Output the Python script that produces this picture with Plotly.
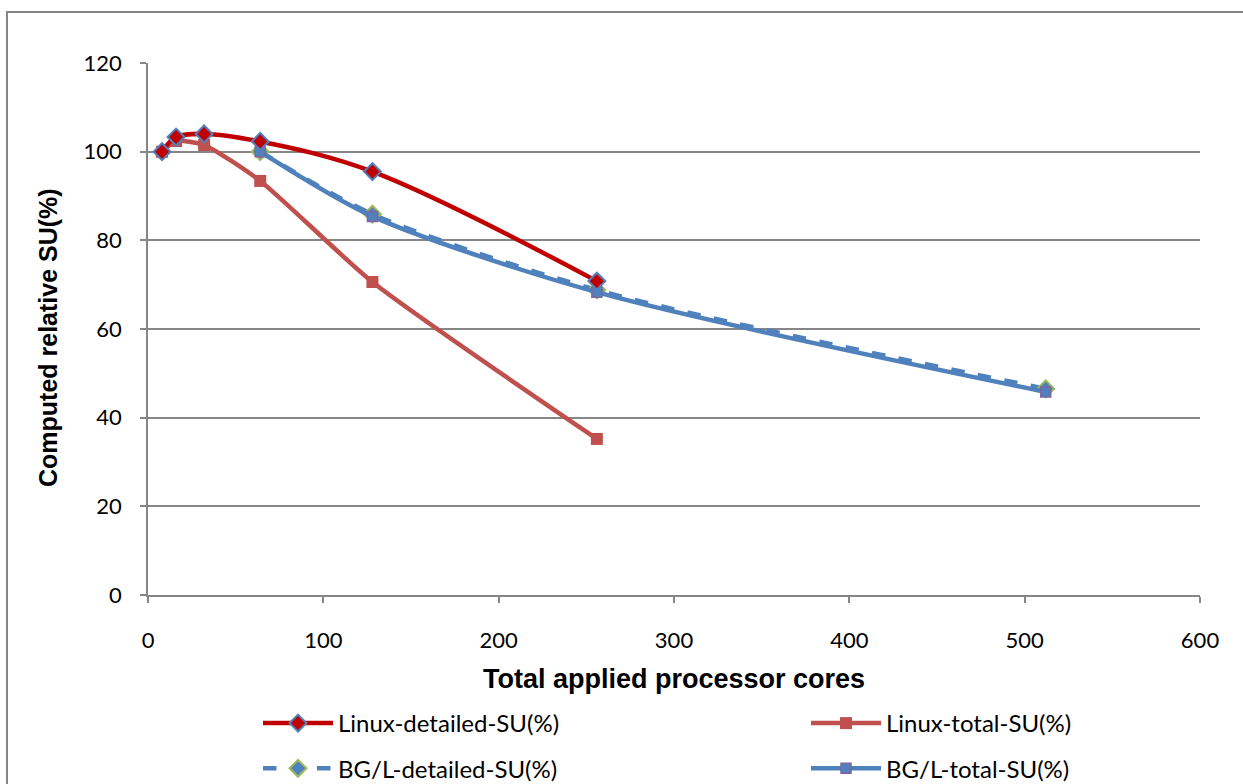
import plotly.graph_objects as go

# Speed-up measurements (relative SU in %) against total processor cores
linux_cores = [8, 16, 32, 64, 128, 256]
linux_detailed_su = [100, 103.3, 104.0, 102.3, 95.5, 70.8]
linux_total_su = [100, 102.4, 101.5, 93.4, 70.6, 35.2]

bgl_cores = [64, 128, 256, 512]
bgl_detailed_su = [100, 85.9, 68.8, 46.5]
bgl_total_su = [100, 85.4, 68.3, 45.8]

x_ticks = [0, 100, 200, 300, 400, 500, 600]
y_ticks = [0, 20, 40, 60, 80, 100, 120]

x_title = "Total applied processor cores"
y_title = "Computed relative SU(%)"

BLUE = "#4F81BD"
DARK_RED = "#C00000"
RED = "#C0504D"
GREEN = "#9BBB59"
PURPLE = "#8064A2"
GRID = "#868686"
TEXT_FONT = "Lato, 'Open Sans', sans-serif"
TITLE_FONT = "'Liberation Sans', Arial, sans-serif"

W, H = 1243, 784
L, R, T, B = 148, 43, 63, 189

fig = go.Figure()

fig.add_trace(go.Scatter(
    x=bgl_cores, y=bgl_detailed_su, name="BG/L-detailed-SU(%)",
    mode="lines+markers", line=dict(color=BLUE, width=4.5, dash="dash", shape="spline", smoothing=0.8),
    marker=dict(symbol="diamond", size=13, color=BLUE, line=dict(color=GREEN, width=2)),
    legend="legend", legendgroup="a2", legendrank=2,
))
fig.add_trace(go.Scatter(
    x=bgl_cores, y=bgl_total_su, name="BG/L-total-SU(%)",
    mode="lines+markers", line=dict(color=BLUE, width=4.5, shape="spline", smoothing=0.8),
    marker=dict(symbol="square", size=10, color=BLUE, line=dict(color=PURPLE, width=1.5)),
    legend="legend2", legendgroup="b2", legendrank=2,
))
fig.add_trace(go.Scatter(
    x=linux_cores, y=linux_total_su, name="Linux-total-SU(%)",
    mode="lines+markers", line=dict(color=RED, width=4.5, shape="spline", smoothing=0.6),
    marker=dict(symbol="square", size=12, color=RED),
    legend="legend2", legendgroup="b1", legendrank=1,
))
fig.add_trace(go.Scatter(
    x=linux_cores, y=linux_detailed_su, name="Linux-detailed-SU(%)",
    mode="lines+markers", line=dict(color=DARK_RED, width=4.5, shape="spline", smoothing=1.0),
    marker=dict(symbol="diamond", size=13, color=DARK_RED, line=dict(color=BLUE, width=2)),
    legend="legend", legendgroup="a1", legendrank=1,
))

legend_common = dict(
    orientation="v", yanchor="top", xanchor="left",
    xref="container", yref="container",
    font=dict(family=TEXT_FONT, size=24, color="#000000"),
    bgcolor="rgba(0,0,0,0)", tracegroupgap=11, itemwidth=70,
    traceorder="grouped",
)
legend_top = 1 - 701 / H

fig.update_layout(
    width=W, height=H,
    margin=dict(l=L, r=R, t=T, b=B, autoexpand=False),
    plot_bgcolor="white", paper_bgcolor="white",
    font=dict(family=TEXT_FONT, size=22, color="#000000"),
    xaxis=dict(
        range=[0, 600], tickvals=x_ticks, ticktext=[str(v) for v in x_ticks],
        showgrid=False, zeroline=False,
        showline=True, linecolor=GRID, linewidth=1.5,
        ticks="outside", ticklen=6, tickcolor=GRID, tickwidth=1.5,
        ticklabelstandoff=19,
        tickfont=dict(family=TEXT_FONT, size=22),
    ),
    yaxis=dict(
        range=[0, 120], tickvals=y_ticks, ticktext=[str(v) for v in y_ticks],
        showgrid=True, gridcolor=GRID, gridwidth=1.5, zeroline=False,
        showline=True, linecolor=GRID, linewidth=1.5,
        ticks="outside", ticklen=6, tickcolor=GRID, tickwidth=1.5,
        ticklabelstandoff=14,
        tickfont=dict(family=TEXT_FONT, size=22),
    ),
    legend=dict(x=258 / W, y=legend_top, **legend_common),
    legend2=dict(x=806 / W, y=legend_top, **legend_common),
    showlegend=True,
)

# Axis titles, placed below / left of the plot area
fig.add_annotation(text=f"<b>{x_title}</b>", xref="paper", yref="paper",
                   x=0.5, y=(H - B - 679) / (H - T - B), xanchor="center", yanchor="middle",
                   showarrow=False, font=dict(family=TITLE_FONT, size=27, color="#000000"))
fig.add_annotation(text=f"<b>{y_title}</b>", xref="paper", yref="paper",
                   x=(48 - L) / (W - L - R), y=(H - B - 338) / (H - T - B),
                   xanchor="center", yanchor="middle", textangle=-90,
                   showarrow=False, font=dict(family=TITLE_FONT, size=25, color="#000000"))

# Outer chart frame
fig.add_shape(type="rect", xref="paper", yref="paper",
              x0=(7 - L) / (W - L - R), x1=1.2, y0=-0.5, y1=(H - B - 12) / (H - T - B),
              line=dict(color=GRID, width=2), fillcolor="rgba(0,0,0,0)", layer="below")

fig.write_html("out.html")
